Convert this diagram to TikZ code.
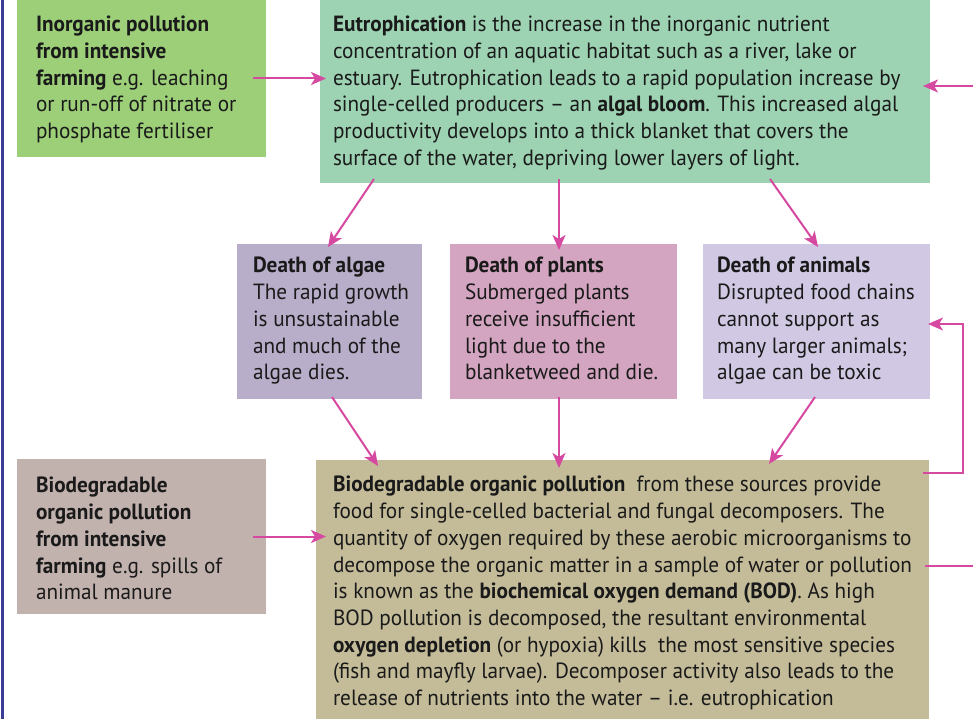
\documentclass[tikz,border=0pt]{standalone}
\usepackage{fontspec}
\usetikzlibrary{arrows.meta}
\newfontfamily\dfont{PT Sans}[Ligatures=TeX,FakeStretch=0.965]
\definecolor{cA}{RGB}{156,207,120}
\definecolor{cB}{RGB}{157,211,179}
\definecolor{cC}{RGB}{185,174,202}
\definecolor{cD}{RGB}{211,165,192}
\definecolor{cE}{RGB}{209,201,228}
\definecolor{cF}{RGB}{194,178,174}
\definecolor{cG}{RGB}{196,188,153}
\definecolor{pinkarr}{RGB}{213,73,160}
\definecolor{blueline}{RGB}{58,60,150}
\definecolor{ink}{RGB}{26,26,26}
\begin{document}
\begin{tikzpicture}[x=1pt,y=-1pt,
  box/.style={draw=none,inner sep=0pt,outer sep=0pt,anchor=north west},
  txt/.style={inner sep=0pt,outer sep=0pt,anchor=north west,align=left,text=ink,
    font=\dfont\fontsize{22}{26.7}\selectfont},
  arr/.style={draw=pinkarr,line width=2pt,-{Stealth[length=15pt,width=13pt,inset=4pt]}},
  con/.style={draw=pinkarr,line width=2pt}]
\useasboundingbox (0,0) rectangle (973,719);
\fill[white] (0,0) rectangle (973,719);
\draw[blueline,line width=3pt] (2.5,0) -- (2.5,719);
% boxes
\node[box,fill=cA,minimum width=249pt,minimum height=157pt] (A) at (17,0) {};
\node[box,fill=cB,minimum width=610pt,minimum height=183pt] (B) at (320,0) {};
\node[box,fill=cC,minimum width=185pt,minimum height=155pt] (C) at (237,244) {};
\node[box,fill=cD,minimum width=227pt,minimum height=155pt] (D) at (450,244) {};
\node[box,fill=cE,minimum width=227pt,minimum height=155pt] (E) at (703,244) {};
\node[box,fill=cF,minimum width=249pt,minimum height=155pt] (F) at (17,459) {};
\node[box,fill=cG,minimum width=613pt,minimum height=259pt] (G) at (316,460) {};
% texts (top = first baseline - 18.7)
\node[txt] (At) at (36,13) {\strut\textbf{Inorganic pollution}\\
\textbf{from intensive}\\
\textbf{farming} e.g. leaching\\
or run-off of nitrate or\\
phosphate fertiliser};
\node[txt] (Bt) at (333,13) {\strut\textbf{Eutrophication} is the increase in the inorganic nutrient\\
concentration of an aquatic habitat such as a river, lake or\\
estuary. Eutrophication leads to a rapid population increase by\\
single-celled producers – an \textbf{algal bloom}. This increased algal\\
productivity develops into a thick blanket that covers the\\
surface of the water, depriving lower layers of light.};
\node[txt] (Ct) at (253,254.3) {\strut\textbf{Death of algae}\\
The rapid growth\\
is unsustainable\\
and much of the\\
algae dies.};
\node[txt] (Dt) at (465,254.3) {\strut\textbf{Death of plants}\\
Submerged plants\\
receive insufficient\\
light due to the\\
blanketweed and die.};
\node[txt] (Et) at (717,254.3) {\strut\textbf{Death of animals}\\
Disrupted food chains\\
cannot support as\\
many larger animals;\\
algae can be toxic};
\node[txt] (Ft) at (36,474.3) {\strut\textbf{Biodegradable}\\
\textbf{organic pollution}\\
\textbf{from intensive}\\
\textbf{farming} e.g. spills of\\
animal manure};
\node[txt] (Gt) at (333,473.3) {\strut\textbf{Biodegradable organic pollution}\ \ from these sources provide\\
food for single-celled bacterial and fungal decomposers. The\\
quantity of oxygen required by these aerobic microorganisms to\\
decompose the organic matter in a sample of water or pollution\\
is known as the \textbf{biochemical oxygen demand (BOD)}. As high\\
BOD pollution is decomposed, the resultant environmental\\
\textbf{oxygen depletion} (or hypoxia) kills\ \ the most sensitive species\\
(fish and mayfly larvae). Decomposer activity also leads to the\\
release of nutrients into the water – i.e. eutrophication};
% connectors
\coordinate (rin) at (973,86);
\coordinate (rout) at (973,566);
\coordinate (k1) at (963,473);
\coordinate (k2) at (963,324);
\draw[arr,shorten <=-13pt,shorten >=-6pt] (A.east) -- (A.east -| B.west);
\draw[arr,shorten >=-7pt] (rin) -- (rin -| B.east);
\draw[arr] ([xshift=54pt,yshift=4pt]B.south west) -- ([xshift=91pt,yshift=-3pt]C.north west);
\draw[arr] ([xshift=239pt,yshift=4pt]B.south west) -- ([xshift=109pt,yshift=-6pt]D.north west);
\draw[arr] ([xshift=450pt,yshift=4pt]B.south west) -- ([xshift=115pt,yshift=-3pt]E.north west);
\draw[arr] ([xshift=95pt,yshift=2pt]C.south west) -- ([xshift=62pt,yshift=-6pt]G.north west);
\draw[arr] ([xshift=109pt,yshift=2pt]D.south west) -- ([xshift=243pt,yshift=-8pt]G.north west);
\draw[arr] ([xshift=112pt,yshift=2pt]E.south west) -- ([xshift=453pt,yshift=-4pt]G.north west);
\draw[arr,shorten <=-6pt,shorten >=-2pt] (k1 -| G.east) -- (k1) -- (k2) -- (k2 -| E.east);
\draw[arr,shorten <=-13pt,shorten >=-10pt] (F.east) -- (F.east -| G.west);
\draw[con,shorten <=-4pt] (rout -| G.east) -- (rout);
\end{tikzpicture}
\end{document}
